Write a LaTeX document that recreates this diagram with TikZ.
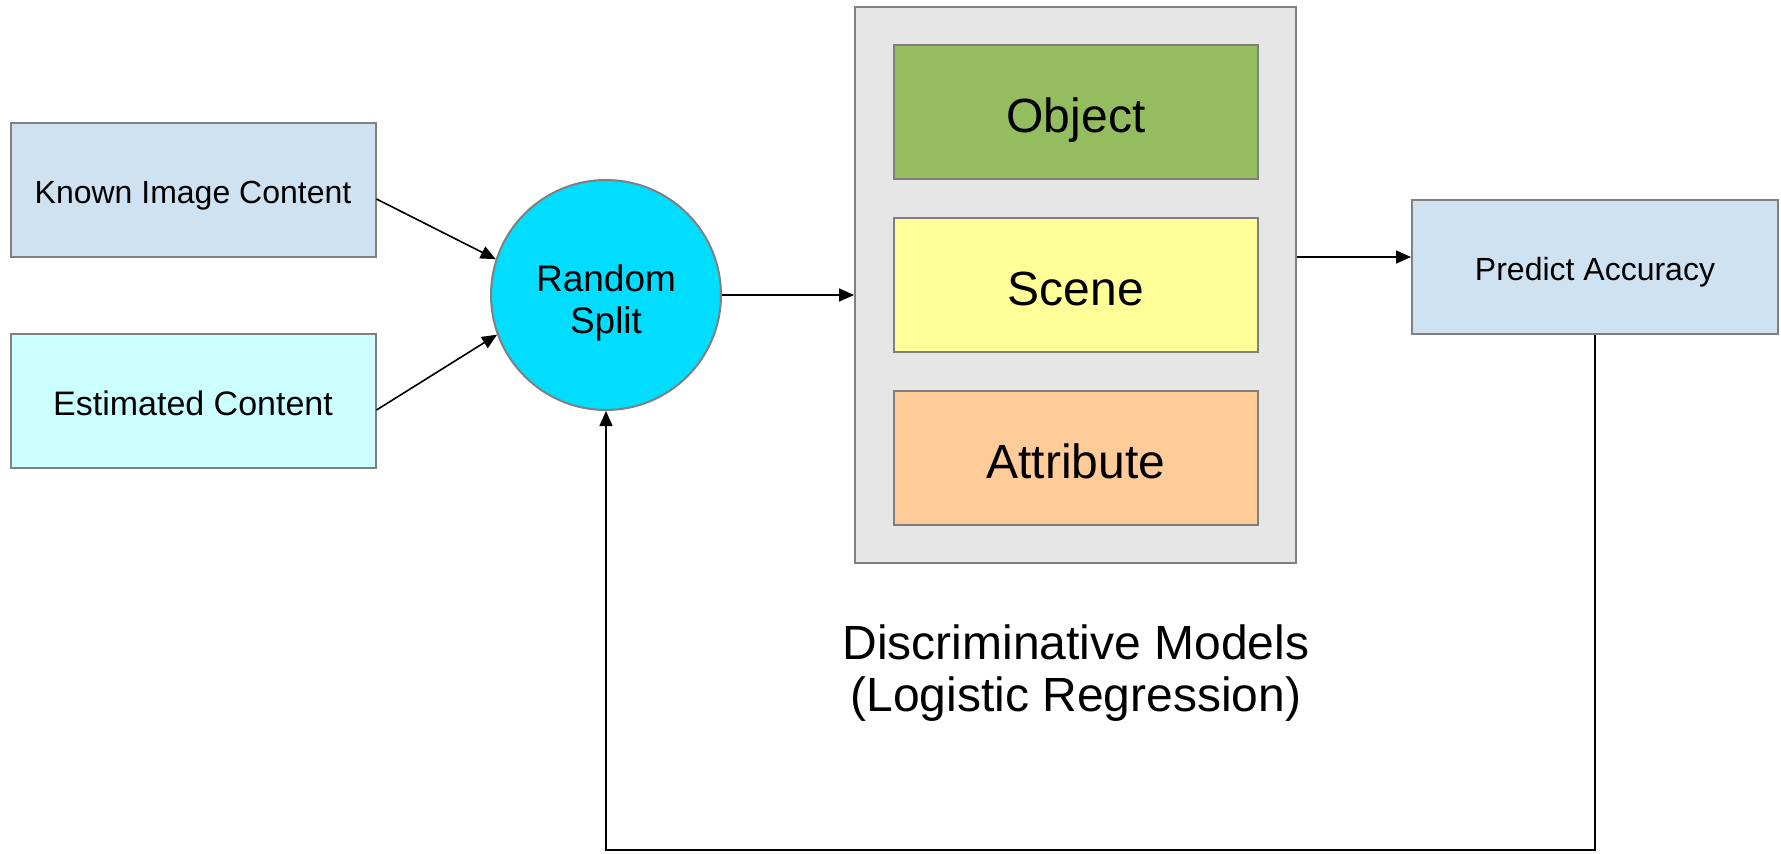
\documentclass[tikz,border=0pt]{standalone}
\usepackage{fontspec}
\setmainfont{Liberation Sans}
\usetikzlibrary{arrows.meta,calc}
\definecolor{knownc}{RGB}{207,226,242}
\definecolor{estc}{RGB}{204,255,255}
\definecolor{circc}{RGB}{0,221,255}
\definecolor{grayc}{RGB}{230,230,230}
\definecolor{objc}{RGB}{147,189,94}
\definecolor{scenec}{RGB}{255,255,153}
\definecolor{attrc}{RGB}{255,204,153}
\definecolor{borderc}{RGB}{128,128,128}
\tikzset{
  box/.style={draw=borderc, line width=1pt, inner sep=0pt, align=center},
  sidebox/.style={box, minimum width=182.5pt, minimum height=67pt},
  modelbox/.style={box, minimum width=182pt, minimum height=67pt, text height=22.8pt, text depth=2.4pt, font=\fontsize{24}{28}\selectfont},
  arr/.style={draw=black, line width=0.8pt, -{Triangle[length=7.5pt,width=6.5pt]}}
}
\begin{document}
\begin{tikzpicture}[x=0.5pt,y=-0.5pt]
\useasboundingbox (0,0) rectangle (1781,853);
\node[sidebox, fill=knownc, text height=15.2pt, text depth=1.6pt, font=\fontsize{16}{19}\selectfont] (known) at (193,190) {Known Image Content};
\node[sidebox, fill=estc, text height=16.15pt, text depth=1.7pt, font=\fontsize{17}{20}\selectfont] (est) at (193,401) {Estimated Content};
\node[box, circle, fill=circc, minimum size=115pt, font=\fontsize{18.5}{21}\selectfont] (circ) at (606,295) {\rule{0pt}{21.5pt}Random\\Split};
\node[box, fill=grayc, minimum width=220.5pt, minimum height=278pt] (gray) at (1075.5,285) {};
\node[modelbox, fill=objc] (obj) at (1076,112) {Object};
\node[modelbox, fill=scenec] (scene) at (1076,285) {Scene};
\node[modelbox, fill=attrc] (attr) at (1076,458) {Attribute};
\node[sidebox, fill=knownc, minimum width=183pt, text height=15.2pt, text depth=1.6pt, font=\fontsize{16}{19}\selectfont] (pred) at (1595,266.5) {Predict Accuracy};
\node[align=center, font=\fontsize{24}{26}\selectfont] (caption) at (1076,673.5) {Discriminative Models\\(Logistic Regression)};
\draw[arr] ([yshift=-4.5pt]known.east) -- (circ.162);
\draw[arr] ([yshift=-4.5pt]est.east) -- (circ.200);
\draw[arr] (circ.east) -- (circ.east -| gray.west);
\coordinate (pin) at ([yshift=4.75pt]pred.west);
\draw[arr] (gray.east |- pin) -- (pin);
\coordinate (bot) at (0,850);
\draw[arr] (pred.south) -- (pred.south |- bot) -| (circ.south);
\end{tikzpicture}
\end{document}
